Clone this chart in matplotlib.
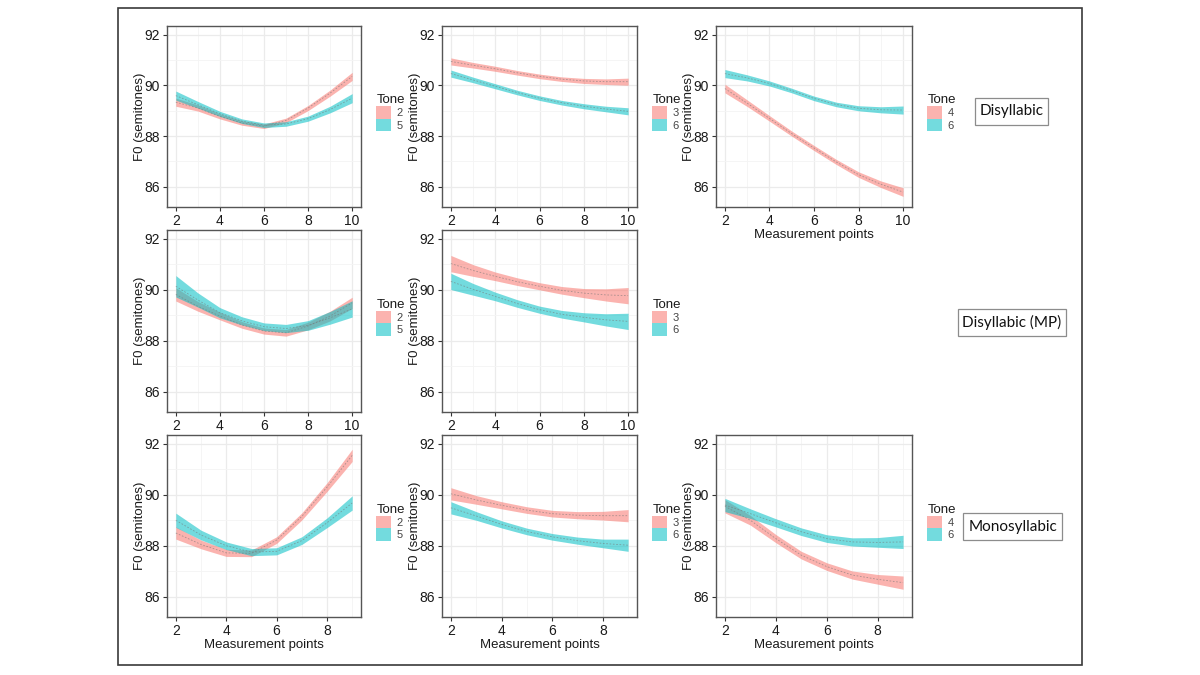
import matplotlib
matplotlib.use("Agg")
import matplotlib.pyplot as plt
from matplotlib.patches import Patch, Rectangle
from matplotlib.ticker import MultipleLocator
import numpy as np

plt.rcParams["font.family"] = ["Liberation Sans", "DejaVu Sans"]

# measurement points
x_dis = [2, 3, 4, 5, 6, 7, 8, 9, 10]
x_mono = [2, 3, 4, 5, 6, 7, 8, 9]

# Disyllabic
dis_t2 = [89.34, 89.11, 88.78, 88.52, 88.39, 88.62, 89.11, 89.70, 90.36]
dis_t2_hw = [0.16, 0.12, 0.10, 0.09, 0.09, 0.09, 0.10, 0.12, 0.16]
dis_t5 = [89.60, 89.24, 88.88, 88.59, 88.43, 88.48, 88.69, 89.05, 89.50]
dis_t5_hw = [0.18, 0.13, 0.10, 0.09, 0.09, 0.09, 0.10, 0.13, 0.18]
dis_t3 = [90.95, 90.80, 90.66, 90.50, 90.36, 90.25, 90.18, 90.15, 90.15]
dis_t3_hw = [0.14, 0.11, 0.10, 0.09, 0.09, 0.09, 0.10, 0.11, 0.14]
dis_t6a = [90.47, 90.22, 89.97, 89.72, 89.50, 89.32, 89.18, 89.07, 88.98]
dis_t6a_hw = [0.14, 0.11, 0.10, 0.09, 0.09, 0.09, 0.10, 0.11, 0.14]
dis_t4 = [89.88, 89.30, 88.70, 88.10, 87.53, 86.98, 86.48, 86.10, 85.79]
dis_t4_hw = [0.17, 0.13, 0.11, 0.10, 0.10, 0.10, 0.11, 0.13, 0.17]
dis_t6b = [90.47, 90.30, 90.08, 89.80, 89.49, 89.25, 89.10, 89.04, 89.03]
dis_t6b_hw = [0.16, 0.12, 0.10, 0.09, 0.09, 0.09, 0.10, 0.12, 0.16]

# Disyllabic (MP)
mp_t2 = [89.82, 89.35, 88.97, 88.62, 88.38, 88.31, 88.58, 88.97, 89.49]
mp_t2_hw = [0.26, 0.19, 0.15, 0.13, 0.12, 0.13, 0.15, 0.19, 0.22]
mp_t5 = [90.14, 89.60, 89.10, 88.78, 88.55, 88.48, 88.60, 88.90, 89.25]
mp_t5_hw = [0.42, 0.28, 0.20, 0.16, 0.15, 0.16, 0.19, 0.25, 0.32]
mp_t3 = [91.03, 90.76, 90.53, 90.32, 90.14, 89.98, 89.87, 89.80, 89.77]
mp_t3_hw = [0.32, 0.23, 0.17, 0.15, 0.14, 0.15, 0.18, 0.24, 0.32]
mp_t6 = [90.33, 90.02, 89.74, 89.46, 89.22, 89.04, 88.92, 88.82, 88.76]
mp_t6_hw = [0.32, 0.23, 0.17, 0.15, 0.14, 0.15, 0.18, 0.24, 0.32]

# Monosyllabic
mono_t2 = [88.50, 88.05, 87.72, 87.70, 88.22, 89.15, 90.30, 91.55]
mono_t2_hw = [0.24, 0.17, 0.14, 0.13, 0.13, 0.14, 0.17, 0.24]
mono_t5 = [89.00, 88.42, 88.00, 87.75, 87.78, 88.20, 88.90, 89.68]
mono_t5_hw = [0.28, 0.19, 0.15, 0.14, 0.14, 0.15, 0.19, 0.28]
mono_t3 = [90.04, 89.80, 89.59, 89.40, 89.26, 89.20, 89.18, 89.18]
mono_t3_hw = [0.24, 0.17, 0.14, 0.13, 0.13, 0.14, 0.17, 0.24]
mono_t6a = [89.49, 89.17, 88.84, 88.56, 88.35, 88.20, 88.09, 88.02]
mono_t6a_hw = [0.24, 0.17, 0.14, 0.13, 0.13, 0.14, 0.17, 0.24]
mono_t4 = [89.55, 89.00, 88.28, 87.63, 87.18, 86.85, 86.68, 86.55]
mono_t4_hw = [0.26, 0.19, 0.16, 0.15, 0.15, 0.16, 0.19, 0.26]
mono_t6b = [89.60, 89.26, 88.90, 88.55, 88.28, 88.15, 88.13, 88.15]
mono_t6b_hw = [0.26, 0.19, 0.16, 0.15, 0.15, 0.16, 0.19, 0.26]

# (row, col, x, [(tone, mean, half width), ...], show xlabel)
panels = [
    (0, 0, x_dis, [("2", dis_t2, dis_t2_hw), ("5", dis_t5, dis_t5_hw)], False),
    (0, 1, x_dis, [("3", dis_t3, dis_t3_hw), ("6", dis_t6a, dis_t6a_hw)], False),
    (0, 2, x_dis, [("4", dis_t4, dis_t4_hw), ("6", dis_t6b, dis_t6b_hw)], True),
    (1, 0, x_dis, [("2", mp_t2, mp_t2_hw), ("5", mp_t5, mp_t5_hw)], False),
    (1, 1, x_dis, [("3", mp_t3, mp_t3_hw), ("6", mp_t6, mp_t6_hw)], False),
    (2, 0, x_mono, [("2", mono_t2, mono_t2_hw), ("5", mono_t5, mono_t5_hw)], True),
    (2, 1, x_mono, [("3", mono_t3, mono_t3_hw), ("6", mono_t6a, mono_t6a_hw)], True),
    (2, 2, x_mono, [("4", mono_t4, mono_t4_hw), ("6", mono_t6b, mono_t6b_hw)], True),
]
group_labels = ["Disyllabic", "Disyllabic (MP)", "Monosyllabic"]

colors = ["#F8766D", "#00BFC4"]
W, H = 1200, 675
col_px = [(167, 361), (442, 637), (716, 912)]
row_px = [(26, 207), (230, 412), (435, 617)]

fig = plt.figure(figsize=(12, 6.75), dpi=100)

for r, c, xs, series, show_xlab in panels:
    x0, x1 = col_px[c]
    y0, y1 = row_px[r]
    ax = fig.add_axes([x0 / W, 1 - y1 / H, (x1 - x0) / W, (y1 - y0) / H])
    xs = np.array(xs)
    handles = []
    for i, (tone, mean, hw) in enumerate(series):
        mean = np.array(mean)
        hw = np.array(hw)
        ax.fill_between(xs, mean - hw, mean + hw, color=colors[i], alpha=0.55,
                        linewidth=0, zorder=2)
        ax.plot(xs, mean, color="#777777", lw=0.6, alpha=0.6, dashes=(2, 2), zorder=3)
        handles.append(Patch(facecolor=colors[i], alpha=0.55, edgecolor="none", label=tone))

    span = xs.max() - xs.min()
    ax.set_xlim(xs.min() - 0.05 * span, xs.max() + 0.05 * span)
    ax.set_ylim(85.2, 92.35)
    ax.xaxis.set_major_locator(MultipleLocator(2))
    ax.xaxis.set_minor_locator(MultipleLocator(1))
    ax.yaxis.set_major_locator(MultipleLocator(2))
    ax.yaxis.set_minor_locator(MultipleLocator(1))
    ax.grid(which="major", color="#EBEBEB", lw=0.9, zorder=0)
    ax.grid(which="minor", color="#F4F4F4", lw=0.6, zorder=0)
    ax.set_axisbelow(True)
    for s in ax.spines.values():
        s.set_color("#555555")
        s.set_linewidth(1.0)
    ax.tick_params(which="major", length=3, width=0.8, color="#333333",
                   labelsize=10, labelcolor="#1A1A1A", pad=2)
    ax.tick_params(which="minor", length=0)
    # label kept tight against the tick labels
    ax.set_ylabel("F0 (semitones)", fontsize=9.5, color="#1A1A1A")
    ax.yaxis.set_label_coords(-21 / (x1 - x0), 0.5)
    if show_xlab:
        ax.set_xlabel("Measurement points", fontsize=9.5, color="#1A1A1A", labelpad=1)

    leg = ax.legend(handles=handles, title="Tone", loc="center left",
                    bbox_to_anchor=(1.05, 0.52), frameon=False, borderpad=0,
                    fontsize=8, title_fontsize=9.5, handlelength=1.3, handleheight=1.35,
                    labelspacing=0.0, handletextpad=0.5, alignment="left")
    for t in leg.get_texts():
        t.set_color("#444444")
    leg.get_title().set_color("#1A1A1A")

# group label boxes
boxes = [(975, 98, 1048, 125), (958, 309, 1066, 336), (963, 513, 1062, 540)]
for (bx0, by0, bx1, by1), lab in zip(boxes, group_labels):
    fig.add_artist(Rectangle((bx0 / W, 1 - by1 / H), (bx1 - bx0) / W, (by1 - by0) / H,
                             transform=fig.transFigure, facecolor="white",
                             edgecolor="#8C8C8C", lw=0.9))
    fig.text((bx0 + bx1) / 2 / W, 1 - (by0 + by1) / 2 / H, lab, ha="center", va="center",
             fontsize=11, family=["Lato", "DejaVu Sans"], color="#111111")

# outer frame
fig.add_artist(Rectangle((118 / W, 1 - 665 / H), (1082 - 118) / W, (665 - 8) / H,
                         transform=fig.transFigure, facecolor="none",
                         edgecolor="#3A3A3A", lw=1.2))

fig.savefig("out.png", dpi=100)
